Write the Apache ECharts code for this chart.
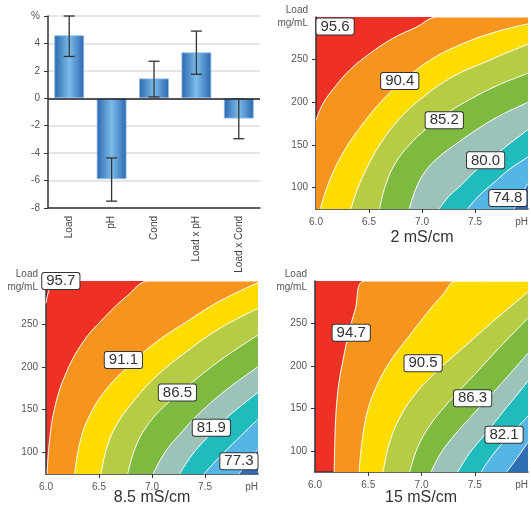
<!DOCTYPE html>
<html><head><meta charset="utf-8">
<script src="https://cdn.jsdelivr.net/npm/echarts@6/dist/echarts.min.js"></script>
<style>html,body{margin:0;padding:0;background:#fff}#c{width:531px;height:509px}</style>
</head><body><div id="c"></div>
<script>
// ---- Bar chart (effects, %) ----
const barCategories = ['Load', 'pH', 'Cond', 'Load x pH', 'Load x Cond'];
const barValues = [4.6, -5.9, 1.45, 3.35, -1.48];
const errLow = [3.05, -7.5, 0.1, 1.75, -2.95];
const errHigh = [6.0, -4.35, 2.7, 4.9, -0.05];
const barYTicks = [-8, 6, 2]; // min, max, interval

// ---- Contour plots: boundary curves [pH, load] ----
const bandColors = ['#ee3124', '#f7941d', '#ffdc00', '#b5cc44', '#7dba3f', '#9bc3b9', '#20bcbd', '#55b5e5', '#2f6db4'];
const xTickValues = [6, 6.5, 7, 7.5, 8];
const yTickValues = [100, 150, 200, 250, 300];

const curves2 = [
  [[6.0,179],[6.068,199],[6.178,218],[6.319,238],[6.506,257],[6.725,275],[6.944,288],[7.147,300]],
  [[6.04,75],[6.13,109],[6.27,144],[6.43,173],[6.63,203],[6.83,226],[7.07,249],[7.35,267],[7.68,282],[8.0,292]],
  [[6.33,75],[6.39,98],[6.48,123],[6.6,150],[6.79,181],[7.01,206],[7.29,230],[7.63,249],[7.82,259],[8.0,268]],
  [[6.6,75],[6.656,103],[6.75,129],[6.88,150],[7.05,170],[7.256,189],[7.49,206],[7.734,221],[8.0,234]],
  [[6.88,75],[6.94,98],[7.03,119],[7.16,136],[7.33,152],[7.54,170],[7.76,186],[8.0,200]],
  [[7.16,75],[7.256,90],[7.37,103],[7.49,118],[7.63,132],[7.8,149],[8.0,168]],
  [[7.43,75],[7.54,91],[7.67,105],[7.82,121],[8.0,136]],
  [[7.87,75],[7.93,90],[8.0,105]]
];
const extra2 = [];
const labels2 = [[6.18,289,'95.6'],[6.79,225,'90.4'],[7.21,179,'85.2'],[7.6,132,'80.0'],[7.81,88,'74.8']];

const curves85 = [
  [[6.01,75],[6.03,110],[6.08,151],[6.18,190],[6.35,229],[6.57,260],[6.76,282],[6.975,300]],
  [[6.27,75],[6.32,112],[6.41,143],[6.57,174],[6.79,202],[7.04,229],[7.32,252],[7.63,276],[8.0,298]],
  [[6.52,75],[6.57,104],[6.66,131],[6.82,159],[7.05,190],[7.32,217],[7.63,244],[8.0,268]],
  [[6.77,75],[6.85,108],[6.975,135],[7.16,159],[7.38,182],[7.66,209],[8.0,237]],
  [[7.01,75],[7.12,100],[7.26,121],[7.44,145],[7.69,172],[8.0,200]],
  [[7.26,75],[7.37,96],[7.51,116],[7.69,139],[8.0,170]],
  [[7.49,75],[7.6,90],[7.76,110],[8.0,139]],
  [[7.82,75],[7.9,88],[8.0,104]]
];
const extra85 = [[[6.0,274],[6.02,286],[6.06,296],[6.09,300]]];
const labels85 = [[6.14,300,'95.7'],[6.73,208,'91.1'],[7.24,170,'86.5'],[7.56,129,'81.9'],[7.82,90,'77.3']];

const curves15 = [
  [[6.18,75],[6.186,110],[6.2,150],[6.225,180],[6.265,208],[6.315,238],[6.375,265],[6.47,300]],
  [[6.415,75],[6.44,110],[6.5,150],[6.6,182],[6.72,208],[6.87,233],[7.05,262],[7.2,284],[7.33,300]],
  [[6.64,75],[6.69,105],[6.78,135],[6.93,165],[7.13,192],[7.38,220],[7.65,250],[8.0,287]],
  [[6.89,75],[6.96,103],[7.08,130],[7.26,158],[7.5,190],[7.75,224],[8.0,256]],
  [[7.09,75],[7.18,97],[7.32,120],[7.5,145],[7.72,175],[8.0,215]],
  [[7.34,75],[7.45,97],[7.6,120],[7.78,148],[8.0,182]],
  [[7.56,75],[7.68,97],[7.83,118],[8.0,141]],
  [[7.8,75],[7.9,92],[8.0,110]]
];
const extra15 = [];
const labels15 = [[6.34,239,'94.7'],[7.015,203,'90.5'],[7.48,162,'86.3'],[7.775,119,'82.1']];

const panelTitles = ['2 mS/cm', '8.5 mS/cm', '15 mS/cm'];

// ---------------------------------------------------------------
const FONT = 'Liberation Sans';
const chart = echarts.init(document.getElementById('c'), null, {renderer: 'canvas'});

const grids = [
  {left: 48, top: 16, width: 212, height: 192},
  {left: 316, top: 17, width: 213, height: 192, show: true, backgroundColor: bandColors[0], borderWidth: 0},
  {left: 46, top: 281, width: 212, height: 193, show: true, backgroundColor: bandColors[0], borderWidth: 0},
  {left: 315, top: 281, width: 213, height: 191, show: true, backgroundColor: bandColors[0], borderWidth: 0}
];

const xAxes = [{
  gridIndex: 0, type: 'category', data: barCategories,
  axisLine: {onZero: false, lineStyle: {color: '#333', width: 1.5}},
  axisTick: {alignWithLabel: true, length: 4, lineStyle: {color: '#333'}},
  axisLabel: {rotate: 90, fontSize: 10, color: '#444', margin: 8, fontFamily: FONT}
}];
const yAxes = [{
  gridIndex: 0, type: 'value', min: barYTicks[0], max: barYTicks[1], interval: barYTicks[2],
  axisLine: {show: true, lineStyle: {color: '#333', width: 1.5}},
  axisTick: {show: true, length: 4, lineStyle: {color: '#333'}},
  splitLine: {lineStyle: {color: '#dcdcdc', width: 1.5}},
  axisLabel: {formatter: v => v === barYTicks[1] ? '%' : String(v), fontSize: 10, color: '#555', fontFamily: FONT}
}];

for (let g = 1; g <= 3; g++) {
  xAxes.push({
    gridIndex: g, type: 'value', min: xTickValues[0], max: xTickValues[xTickValues.length - 1],
    axisLine: {show: true, onZero: false, lineStyle: {color: '#333', width: 1.5}},
    axisTick: {show: true, customValues: xTickValues.slice(1, -1), length: 4, lineStyle: {color: '#333'}},
    axisLabel: {customValues: xTickValues, formatter: v => v === 8 ? 'pH' : v.toFixed(1), fontSize: 10, color: '#555', fontFamily: FONT, alignMaxLabel: 'right'},
    splitLine: {show: false}
  });
  yAxes.push({
    gridIndex: g, type: 'value', min: 75, max: 300,
    axisLine: {show: true, onZero: false, lineStyle: {color: '#333', width: 1.5}},
    axisTick: {show: true, customValues: yTickValues.slice(0, -1), length: 4, lineStyle: {color: '#333'}},
    axisLabel: {customValues: yTickValues, formatter: v => v === 300 ? 'Load\nmg/mL' : String(v), fontSize: 10, color: '#555', fontFamily: FONT, lineHeight: 13},
    splitLine: {show: false}
  });
}

const series = [];
series.push({
  type: 'bar', xAxisIndex: 0, yAxisIndex: 0, data: barValues, barWidth: 30,
  itemStyle: {
    color: new echarts.graphic.LinearGradient(0, 0, 1, 0, [
      {offset: 0, color: '#2a66ae'}, {offset: 0.5, color: '#7cbcea'}, {offset: 1, color: '#2a66ae'}]),
    borderColor: 'rgba(150,190,235,0.8)', borderWidth: 1
  },
  markLine: {silent: true, symbol: 'none', label: {show: false},
    lineStyle: {color: '#222', width: 1.5, type: 'solid'}, data: [{yAxis: 0}]},
  animation: false
});
series.push({
  type: 'custom', xAxisIndex: 0, yAxisIndex: 0,
  data: errLow.map((lo, i) => [i, lo, errHigh[i]]),
  encode: {x: 0, y: [1, 2]},
  renderItem: (params, api) => {
    const i = api.value(0);
    const lo = api.coord([i, api.value(1)]);
    const hi = api.coord([i, api.value(2)]);
    const hw = 5.5;
    const st = {stroke: '#333', lineWidth: 1.3};
    return {type: 'group', children: [
      {type: 'line', shape: {x1: lo[0], y1: lo[1], x2: hi[0], y2: hi[1]}, style: st},
      {type: 'line', shape: {x1: lo[0] - hw, y1: lo[1], x2: lo[0] + hw, y2: lo[1]}, style: st},
      {type: 'line', shape: {x1: hi[0] - hw, y1: hi[1], x2: hi[0] + hw, y2: hi[1]}, style: st}
    ]};
  },
  z: 5, animation: false
});

function addPanel(g, curves, extras, labels) {
  curves.forEach((c, k) => {
    const d = c.slice();
    const last = d[d.length - 1];
    if (last[1] >= 300 && last[0] < 8) d.push([8, 300]);
    series.push({
      type: 'line', xAxisIndex: g, yAxisIndex: g, data: d,
      smooth: 0.4, symbol: 'none', silent: true,
      lineStyle: {color: '#fff', width: 1},
      areaStyle: {color: bandColors[k + 1], opacity: 1, origin: 'start'},
      z: 2, animation: false
    });
  });
  extras.forEach(c => {
    series.push({
      type: 'line', xAxisIndex: g, yAxisIndex: g, data: c,
      smooth: 0.4, symbol: 'none', silent: true,
      lineStyle: {color: '#fff', width: 1}, z: 2, animation: false
    });
  });
  series.push({
    type: 'scatter', xAxisIndex: g, yAxisIndex: g, data: labels,
    symbolSize: 0, clip: false, silent: true, z: 10, animation: false,
    itemStyle: {opacity: 1},
    label: {show: true, position: 'inside', formatter: p => p.data[2],
      fontSize: 15, fontFamily: FONT, color: '#333', backgroundColor: '#ffffff', opacity: 1,
      borderColor: '#333', borderWidth: 1, borderRadius: 2, padding: [1, 4, 0, 4]}
  });
}
addPanel(1, curves2, extra2, labels2);
addPanel(2, curves85, extra85, labels85);
addPanel(3, curves15, extra15, labels15);

const titlePos = [[422, 238], [152, 498], [421, 498]];
const graphic = panelTitles.map((t, i) => ({
  type: 'text', x: titlePos[i][0], y: titlePos[i][1], silent: true,
  style: {text: t, fill: '#333', font: '16px ' + FONT, textAlign: 'center', textVerticalAlign: 'middle'}
}));

chart.setOption({
  animation: false,
  backgroundColor: '#fff',
  grid: grids,
  xAxis: xAxes,
  yAxis: yAxes,
  series: series,
  graphic: graphic
});
</script>
</body></html>
